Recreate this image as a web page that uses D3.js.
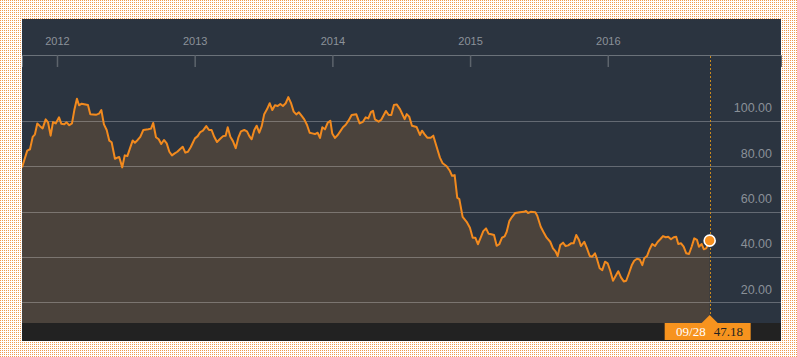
<!DOCTYPE html>
<html><head><meta charset="utf-8">
<script src="https://cdn.jsdelivr.net/npm/d3@7"></script>
<style>html,body{margin:0;padding:0;background:#fff;}svg{display:block;}</style>
</head><body>
<svg id="chart" width="797" height="357"></svg>
<script>
// Decimal-year positions of the traced points
const dates = [2011.746,2011.784,2011.804,2011.824,2011.840,2011.857,2011.877,2011.896,2011.918,2011.935,2011.954,2011.971,2011.991,
2012.015,2012.031,2012.053,2012.070,2012.089,2012.109,2012.126,2012.145,2012.160,2012.179,2012.225,2012.242,2012.283,2012.305,2012.322,2012.341,2012.361,2012.380,2012.397,2012.421,2012.438,2012.452,2012.474,2012.492,2012.511,2012.530,2012.550,2012.566,2012.586,2012.605,2012.627,2012.663,2012.683,2012.699,2012.719,2012.739,2012.757,2012.777,2012.797,2012.816,2012.835,2012.855,2012.874,2012.893,2012.913,2012.932,2012.951,2012.971,2012.990,
2013.002,2013.022,2013.041,2013.060,2013.084,2013.104,2013.123,2013.142,2013.162,2013.182,2013.206,2013.225,2013.240,2013.259,2013.278,2013.298,2013.317,2013.336,2013.360,2013.380,2013.397,2013.414,2013.433,2013.450,2013.469,2013.487,2013.505,2013.525,2013.545,2013.564,2013.583,2013.603,2013.622,2013.641,2013.661,2013.680,2013.699,2013.719,2013.738,2013.757,2013.777,2013.796,2013.816,2013.835,2013.854,2013.874,2013.893,2013.910,2013.927,2013.946,2013.966,2013.985,2013.999,
2014.019,2014.039,2014.057,2014.077,2014.097,2014.116,2014.140,2014.174,2014.198,2014.222,2014.242,2014.261,2014.280,2014.295,2014.309,2014.336,2014.355,2014.389,2014.409,2014.428,2014.447,2014.467,2014.491,2014.505,2014.525,2014.540,2014.558,2014.578,2014.612,2014.636,2014.651,2014.670,2014.689,2014.714,2014.733,2014.757,2014.781,2014.801,2014.830,2014.854,2014.869,2014.888,2014.907,2014.922,2014.946,2014.975,2014.999,
2015.019,2015.038,2015.057,2015.077,2015.096,2015.116,2015.135,2015.154,2015.174,2015.193,2015.212,2015.232,2015.251,2015.266,2015.285,2015.304,2015.328,2015.362,2015.391,2015.406,2015.421,2015.440,2015.474,2015.488,2015.513,2015.532,2015.556,2015.582,2015.602,2015.622,2015.636,2015.655,2015.675,2015.694,2015.713,2015.733,2015.752,2015.771,2015.791,2015.805,2015.829,2015.849,2015.869,2015.887,2015.907,2015.922,2015.941,2015.960,2015.980,2015.999,
2016.018,2016.038,2016.057,2016.076,2016.096,2016.116,2016.134,2016.154,2016.174,2016.192,2016.212,2016.232,2016.251,2016.265,2016.285,2016.304,2016.323,2016.343,2016.362,2016.381,2016.401,2016.421,2016.439,2016.459,2016.479,2016.497,2016.512,2016.532,2016.551,2016.570,2016.590,2016.609,2016.628,2016.648,2016.662,2016.682,2016.697,2016.715,2016.730,2016.740];
const prices = [79.5,86.9,87.5,93.0,94.1,98.9,97.7,96.7,100.7,99.4,93.5,99.5,98.9,
101.6,98.8,98.5,99.4,98.1,98.9,104.8,109.8,106.9,107.6,107.0,103.0,102.7,103.2,104.8,98.5,96.0,91.3,90.6,83.3,83.8,84.1,79.5,84.8,84.5,87.9,91.4,90.4,91.6,93.0,96.0,96.3,96.6,99.1,92.8,91.9,89.8,91.6,90.1,86.4,84.8,85.7,86.4,87.5,88.6,86.0,86.4,88.4,90.8,
92.3,93.3,95.1,95.7,97.7,96.0,96.0,93.0,90.7,91.9,93.3,93.5,97.2,93.0,91.1,88.0,92.6,95.4,96.0,95.4,93.3,91.9,96.0,97.9,94.8,97.7,103.0,105.1,107.8,104.8,106.9,106.6,107.5,106.6,107.8,110.5,108.0,104.1,102.9,103.8,102.2,100.7,98.2,94.8,94.5,94.2,94.8,92.5,97.2,96.3,99.2,100.1,94.5,
92.5,93.8,95.4,97.2,98.3,100.0,102.6,102.9,98.9,99.6,101.6,101.1,103.9,104.5,100.7,99.7,100.5,104.4,102.6,102.6,107.0,107.3,105.2,103.4,100.8,103.0,101.9,97.9,97.3,93.8,95.7,94.1,92.6,92.6,93.5,88.6,83.8,81.3,80.0,77.9,75.8,76.1,66.1,65.5,57.7,55.5,52.9,
48.5,48.5,45.6,48.5,51.4,52.6,50.2,50.0,49.7,44.9,45.6,48.5,49.1,51.1,55.8,57.6,59.4,59.7,59.9,60.3,59.4,59.9,59.7,58.2,53.3,51.1,48.5,46.7,43.8,42.3,40.4,45.3,46.3,44.8,45.1,46.0,46.0,49.7,47.5,44.8,46.7,43.8,40.4,40.1,41.6,39.0,35.0,34.2,37.9,37.2,
33.9,29.5,31.6,33.7,31.0,29.2,29.5,32.8,36.3,38.3,39.2,38.9,36.4,39.4,40.4,43.4,45.7,44.8,46.6,47.8,49.2,48.7,48.9,47.8,48.7,48.9,45.7,46.0,44.5,41.6,41.3,44.5,48.2,47.5,44.5,45.7,43.4,43.8,46.0,47.18];
const yearTicks = [2012, 2013, 2014, 2015, 2016];
const priceTicks = [20, 40, 60, 80, 100];
const lastDateLabel = "09/28";

const svg = d3.select("#chart");
const W = 797, H = 357;
const panel = {x0: 22, x1: 781, y0: 19, y1: 341};
const axisY = 55, barTop = 323;

// background dotted pattern
const defs = svg.append("defs");
const pat = defs.append("pattern").attr("id","dots").attr("width",2).attr("height",2).attr("patternUnits","userSpaceOnUse");
pat.append("rect").attr("width",2).attr("height",2).attr("fill","#ffffff");
pat.append("rect").attr("width",1).attr("height",1).attr("fill","#ef9a4e");
svg.append("rect").attr("width",W).attr("height",H).attr("fill","url(#dots)");
defs.append("clipPath").attr("id","clip").append("rect")
  .attr("x",panel.x0).attr("y",axisY).attr("width",panel.x1-panel.x0).attr("height",barTop-axisY);

svg.append("rect").attr("x",panel.x0).attr("y",panel.y0).attr("width",panel.x1-panel.x0).attr("height",panel.y1-panel.y0).attr("fill","#2b3440");

const x = d3.scaleLinear().domain([2011.746, 2017.258]).range([panel.x0, panel.x1]);
const y = d3.scaleLinear().domain([0, 120]).range([347.6, 75.6]);

const data = dates.map((d,i)=>({t:d, v:prices[i]}));

const g = svg.append("g").attr("clip-path","url(#clip)");
g.append("path").datum(data)
  .attr("d", d3.area().x(d=>x(d.t)).y0(y(0)).y1(d=>y(d.v)))
  .attr("fill","#4b433c");

// gridlines
g.selectAll("line.grid").data(priceTicks).enter().append("line")
  .attr("x1",panel.x0).attr("x2",panel.x1)
  .attr("y1",d=>Math.round(y(d))+0.5).attr("y2",d=>Math.round(y(d))+0.5)
  .attr("stroke","rgba(255,255,255,0.27)").attr("stroke-width",1.2);

g.append("path").datum(data)
  .attr("d", d3.line().x(d=>x(d.t)).y(d=>y(d.v)))
  .attr("fill","none").attr("stroke","#f28a1e").attr("stroke-width",2).attr("stroke-linejoin","round");

// y labels
svg.selectAll("text.ylab").data(priceTicks).enter().append("text")
  .attr("x",772).attr("y",d=>y(d)-8.5).attr("text-anchor","end")
  .attr("font-family","'Liberation Sans', Arial, sans-serif").attr("font-size","12.5px")
  .attr("fill","#8a9098").text(d=>d3.format(".2f")(d));

// top axis
const ax = svg.append("g").attr("transform",`translate(0,${axisY})`)
  .call(d3.axisBottom(x).tickValues(yearTicks).tickFormat(d3.format("d")).tickSize(12).tickSizeOuter(12));
ax.select(".domain").attr("stroke","#6b727a");
ax.selectAll(".tick line").attr("stroke","#5d646c").attr("stroke-width",1.5);
ax.selectAll(".tick text").attr("y",-10).attr("dy",0).attr("fill","#8c929a")
  .attr("font-family","'Liberation Sans', Arial, sans-serif").attr("font-size","11px");

// bottom bar
svg.append("rect").attr("x",panel.x0).attr("y",barTop).attr("width",panel.x1-panel.x0).attr("height",panel.y1-barTop).attr("fill","#222222");

// crosshair
const last = data[data.length-1];
const lx = x(last.t);
svg.append("line").attr("x1",Math.round(lx)+0.5).attr("x2",Math.round(lx)+0.5).attr("y1",axisY+1).attr("y2",barTop)
  .attr("stroke","#c98a1f").attr("stroke-width",1).attr("stroke-dasharray","2,2");
svg.append("circle").attr("cx",lx).attr("cy",y(last.v)).attr("r",5.5)
  .attr("fill","#f7901e").attr("stroke","#fff").attr("stroke-width",1.6);

// label box
const bx0 = lx-45, bx1 = lx+41;
svg.append("rect").attr("x",bx0).attr("y",barTop).attr("width",bx1-bx0).attr("height",panel.y1-barTop-1).attr("fill","#f7931e");
svg.append("path").attr("d",`M${lx-8},${barTop}L${lx},${barTop-8}L${lx+8},${barTop}Z`).attr("fill","#f7931e");
svg.append("text").attr("x",lx-4).attr("y",336).attr("text-anchor","end")
  .attr("font-family","'Liberation Serif', 'Times New Roman', serif").attr("font-size","13px").attr("fill","#ffffff").text(lastDateLabel);
svg.append("text").attr("x",lx+4).attr("y",336).attr("text-anchor","start")
  .attr("font-family","'Liberation Serif', 'Times New Roman', serif").attr("font-size","13px").attr("fill","#222222").text(d3.format(".2f")(last.v));
</script>
</body></html>
